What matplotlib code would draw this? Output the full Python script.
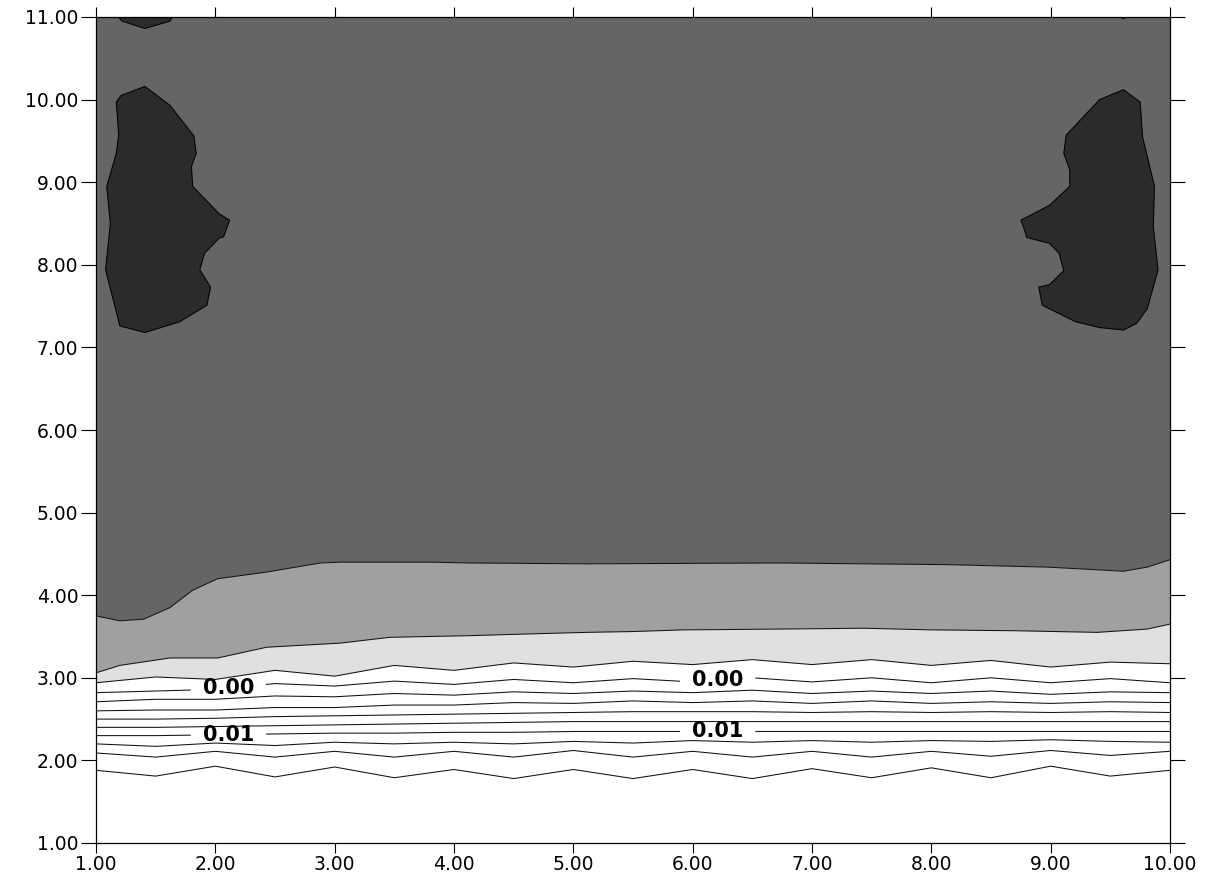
import numpy as np
import matplotlib
matplotlib.use("Agg")
import matplotlib.pyplot as plt
from matplotlib.ticker import FormatStrFormatter

# ---------------- data ----------------
x_cols = [1.0, 1.5, 2.0, 2.5, 3.0, 3.5, 4.0, 4.5, 5.0, 5.5, 6.0, 6.5,
          7.0, 7.5, 8.0, 8.5, 9.0, 9.5, 10.0]

# y position of each contour level along x_cols
y_p016 = [1.88, 1.81, 1.93, 1.80, 1.92, 1.79, 1.89, 1.78, 1.89, 1.78, 1.89, 1.78, 1.90, 1.79, 1.91, 1.79, 1.93, 1.81, 1.88]
y_p014 = [2.09, 2.04, 2.11, 2.04, 2.11, 2.04, 2.11, 2.04, 2.12, 2.04, 2.11, 2.04, 2.11, 2.04, 2.11, 2.05, 2.12, 2.06, 2.11]
y_p012 = [2.20, 2.17, 2.21, 2.18, 2.22, 2.20, 2.22, 2.20, 2.23, 2.21, 2.24, 2.22, 2.24, 2.22, 2.24, 2.23, 2.25, 2.23, 2.22]
y_p010 = [2.30, 2.30, 2.31, 2.32, 2.33, 2.33, 2.34, 2.34, 2.35, 2.35, 2.35, 2.35, 2.35, 2.35, 2.35, 2.35, 2.35, 2.35, 2.35]
y_p008 = [2.40, 2.40, 2.41, 2.42, 2.43, 2.44, 2.45, 2.46, 2.47, 2.47, 2.47, 2.47, 2.47, 2.47, 2.47, 2.47, 2.47, 2.47, 2.47]
y_p006 = [2.50, 2.50, 2.51, 2.53, 2.54, 2.55, 2.56, 2.57, 2.58, 2.59, 2.59, 2.59, 2.58, 2.59, 2.58, 2.59, 2.58, 2.59, 2.58]
y_p004 = [2.60, 2.61, 2.61, 2.64, 2.64, 2.67, 2.67, 2.70, 2.69, 2.72, 2.70, 2.72, 2.69, 2.72, 2.69, 2.71, 2.69, 2.71, 2.70]
y_p002 = [2.71, 2.74, 2.74, 2.78, 2.77, 2.81, 2.79, 2.83, 2.81, 2.84, 2.82, 2.85, 2.81, 2.84, 2.81, 2.84, 2.80, 2.83, 2.82]
y_000 = [2.82, 2.84, 2.86, 2.93, 2.90, 2.96, 2.92, 2.98, 2.94, 2.99, 2.95, 3.00, 2.95, 3.00, 2.94, 3.00, 2.94, 2.99, 2.94]
y_m002 = [2.94, 3.01, 2.98, 3.09, 3.02, 3.15, 3.09, 3.18, 3.13, 3.20, 3.16, 3.22, 3.16, 3.22, 3.15, 3.21, 3.13, 3.19, 3.17]

x_m004 = [1.0, 1.2, 1.62, 2.02, 2.43, 3.05, 3.46, 4.13, 4.6, 5.11, 5.5, 5.92, 6.73, 7.43, 8.0, 8.69, 9.39, 9.81, 10.0]
y_m004 = [3.06, 3.15, 3.24, 3.24, 3.37, 3.42, 3.49, 3.51, 3.53, 3.55, 3.56, 3.58, 3.59, 3.60, 3.58, 3.57, 3.55, 3.59, 3.65]

x_m006 = [1.0, 1.2, 1.4, 1.62, 1.81, 2.02, 2.43, 2.88, 3.05, 3.8, 4.13, 5.11, 6.73, 8.13, 8.97, 9.36, 9.61, 9.81, 10.0]
y_m006 = [3.75, 3.69, 3.71, 3.85, 4.06, 4.20, 4.28, 4.39, 4.40, 4.40, 4.39, 4.38, 4.39, 4.37, 4.34, 4.31, 4.29, 4.34, 4.43]

# contour values of the rows (bottom edge ... top edge)
row_values = [0.018, 0.016, 0.014, 0.012, 0.010, 0.008, 0.006, 0.004,
              0.002, 0.0, -0.002, -0.004, -0.006, -0.008]
plain_levels = [-0.006, -0.004, -0.002, 0.002, 0.004, 0.006,
                0.008, 0.012, 0.014, 0.016]
labelled_levels = [0.0, 0.010]
fill_levels = [-0.010, -0.006, -0.004, -0.002, 0.020]
fill_colors = ['#656565', '#a0a0a0', '#e0e0e0', '#ffffff']

# dark closed minima (boundary of the darkest contour class)
left_patch_x = [1.41, 1.62, 1.82, 1.84, 1.80, 1.81, 2.03, 2.12, 2.07, 2.03, 1.91, 1.87,
                1.96, 1.93, 1.70, 1.41, 1.20, 1.08, 1.12, 1.09, 1.17, 1.19, 1.17, 1.21]
left_patch_y = [10.16, 9.93, 9.56, 9.35, 9.19, 8.95, 8.62, 8.54, 8.34, 8.32, 8.14, 7.94,
                7.73, 7.51, 7.31, 7.18, 7.26, 7.94, 8.50, 8.95, 9.35, 9.57, 9.97, 10.05]
right_patch_x = [9.61, 9.75, 9.77, 9.87, 9.86, 9.90, 9.81, 9.72, 9.61, 9.41, 9.21, 8.93, 8.90,
                 8.99, 9.11, 9.07, 8.99, 8.80, 8.77, 8.75, 8.99, 9.16, 9.16, 9.11, 9.13, 9.41]
right_patch_y = [10.12, 9.97, 9.55, 8.95, 8.46, 7.94, 7.47, 7.29, 7.21, 7.24, 7.31, 7.51, 7.73,
                 7.76, 7.93, 8.14, 8.26, 8.33, 8.47, 8.54, 8.72, 8.95, 9.15, 9.35, 9.57, 10.00]
top_left_patch_x = [1.15, 1.22, 1.41, 1.62, 1.66]
top_left_patch_y = [11.05, 10.95, 10.86, 10.95, 11.05]
top_right_patch_x = [9.55, 9.61, 9.67]
top_right_patch_y = [11.02, 10.98, 11.02]

x_ticks = [1, 2, 3, 4, 5, 6, 7, 8, 9, 10]
y_ticks = [1, 2, 3, 4, 5, 6, 7, 8, 9, 10, 11]

# ---------------- build curvilinear grid ----------------
n = len(x_cols)
rows_x = [x_cols, x_cols, x_cols, x_cols, x_cols, x_cols, x_cols, x_cols,
          x_cols, x_cols, x_cols, x_m004, x_m006, x_cols]
rows_y = [[1.0] * n, y_p016, y_p014, y_p012, y_p010, y_p008, y_p006, y_p004,
          y_p002, y_000, y_m002, y_m004, y_m006, [11.0] * n]
X = np.array(rows_x, dtype=float)
Y = np.array(rows_y, dtype=float)
Z = np.repeat(np.array(row_values, dtype=float)[:, None], n, axis=1)

# ---------------- figure ----------------
plt.rcParams['font.family'] = ['DejaVu Sans']
plt.rcParams['contour.negative_linestyle'] = 'solid'
fig = plt.figure(figsize=(12.16, 8.77), dpi=100)
ax = fig.add_axes([96 / 1216, 34 / 877, 1074 / 1216, 826 / 877])

ax.contourf(X, Y, Z, levels=fill_levels, colors=fill_colors, antialiased=True, zorder=1)
ax.contour(X, Y, Z, levels=plain_levels, colors='#111111', linewidths=0.75,
           linestyles='solid', zorder=2)
cs_lab = ax.contour(X, Y, Z, levels=labelled_levels, colors='#111111', linewidths=0.75,
                    linestyles='solid', zorder=2)

for px, py in [(left_patch_x, left_patch_y), (right_patch_x, right_patch_y),
               (top_left_patch_x, top_left_patch_y), (top_right_patch_x, top_right_patch_y)]:
    ax.fill(px, py, facecolor='#2b2b2b', edgecolor='black', linewidth=0.75, zorder=3)

with plt.rc_context({'font.weight': 'bold'}):
    labels = ax.clabel(cs_lab, fmt='%.2f', fontsize=15,
                       inline=True, inline_spacing=12, colors='black',
                       manual=[(2.11, 2.87), (6.21, 2.96), (2.11, 2.31), (6.21, 2.35)])
for t in labels:
    t.set_rotation(0)
    t.set_fontweight('bold')

ax.set_xlim(1, 10)
ax.set_ylim(1, 11)
ax.set_xticks(x_ticks)
ax.set_yticks(y_ticks)
ax.xaxis.set_major_formatter(FormatStrFormatter('%.2f'))
ax.yaxis.set_major_formatter(FormatStrFormatter('%.2f'))
ax.tick_params(direction='out', width=0.8, labelsize=13.5, top=True, right=True,
               colors='black')
ax.xaxis.set_tick_params(length=7.2, pad=1.5)
ax.yaxis.set_tick_params(length=10.8, pad=2)
for sp in ax.spines.values():
    sp.set_linewidth(0.9)
    sp.set_zorder(5)

fig.savefig('out.png', dpi=100)
